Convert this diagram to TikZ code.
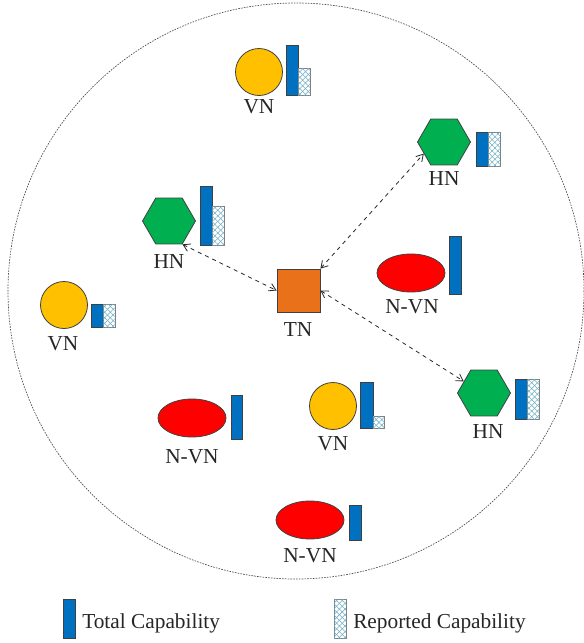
\documentclass[tikz,border=0pt]{standalone}
\usepackage{fontspec}
\setmainfont{Liberation Serif}
\usetikzlibrary{shapes.geometric,arrows.meta,patterns.meta}
\definecolor{vnyellow}{HTML}{FFC000}
\definecolor{hngreen}{HTML}{00B050}
\definecolor{tnorange}{HTML}{E8711A}
\definecolor{nvnred}{HTML}{FF0000}
\definecolor{capblue}{HTML}{0070C0}
\definecolor{patcol}{HTML}{6FAFC4}
\definecolor{edge}{HTML}{404040}
\def\px{0.75pt}
\tikzset{
  lbl/.style={font=\fontsize{16}{19}\selectfont, text=black!85, inner sep=0pt, anchor=base},
  vn/.style={circle, draw=edge, line width=0.6pt, fill=vnyellow, inner sep=0pt, minimum size=47*\px},
  hn/.style={regular polygon, regular polygon sides=6, draw=edge, line width=0.6pt, fill=hngreen, inner sep=0pt, minimum size=53*\px},
  nvn/.style={ellipse, draw=edge, line width=0.6pt, fill=nvnred, inner sep=0pt, minimum width=68*\px, minimum height=38*\px},
  tnbox/.style={rectangle, draw=edge, line width=0.6pt, fill=tnorange, inner sep=0pt, minimum size=43*\px},
  total/.style={draw=edge, line width=0.6pt, fill=capblue},
  reported/.style={draw=gray, line width=0.6pt, fill=white,
    postaction={pattern={Lines[angle=45,distance=3pt,line width=0.4pt]}, pattern color=patcol},
    postaction={pattern={Lines[angle=-45,distance=3pt,line width=0.4pt]}, pattern color=patcol}},
  link/.style={dashed, line width=0.6pt, black!85, {Straight Barb[length=5pt,width=6pt]}-{Straight Barb[length=5pt,width=6pt]}},
  border/.style={draw=black!70, line width=0.5pt, dash pattern=on 1.2pt off 0.9pt}
}
\begin{document}
\begin{tikzpicture}[x=0.75pt,y=-0.75pt]
\useasboundingbox (0,0) rectangle (584,643);
% big dashed circle
\draw[border] (296,291) circle[radius=288];

% VN top
\node[vn] (vn1) at (259,72) {};
\draw[total] (286,45) rectangle (298,95);
\draw[reported] (298,68) rectangle (310,95);
\node[lbl] (vn1l) at (259,113) {VN};

% HN top right
\node[hn] (hnR) at (444,142) {};
\draw[total] (476,132) rectangle (488,166);
\draw[reported] (488,132) rectangle (500,166);
\node[lbl] (hnRl) at (444,185) {HN};

% HN left
\node[hn] (hnL) at (169,221) {};
\draw[total] (200,186) rectangle (212,245);
\draw[reported] (212,206) rectangle (224,245);
\node[lbl] (hnLl) at (169,268) {HN};

% TN
\node[tnbox] (tn) at (298.5,290.5) {};
\node[lbl] (tnl) at (298,336) {TN};

% VN left
\node[vn] (vn2) at (64,305) {};
\draw[total] (91,304) rectangle (103,327);
\draw[reported] (103,304) rectangle (115,327);
\node[lbl] (vn2l) at (63,350) {VN};

% N-VN right
\node[nvn] (nvn1) at (411,273) {};
\draw[total] (449,236) rectangle (461,294);
\node[lbl] (nvn1l) at (412,313) {N-VN};

% HN bottom right
\node[hn] (hnB) at (484,393) {};
\draw[total] (515,379) rectangle (527,419);
\draw[reported] (527,379) rectangle (539,419);
\node[lbl] (hnBl) at (488,438) {HN};

% VN middle
\node[vn] (vn3) at (333,406) {};
\draw[total] (360,382) rectangle (373,428);
\draw[reported] (373,416) rectangle (384,428);
\node[lbl] (vn3l) at (333,450) {VN};

% N-VN left
\node[nvn] (nvn2) at (192,418) {};
\draw[total] (231,395) rectangle (242,439);
\node[lbl] (nvn2l) at (192,463) {N-VN};

% N-VN bottom
\node[nvn] (nvn3) at (310,520) {};
\draw[total] (349,505) rectangle (361,540);
\node[lbl] (nvn3l) at (310,562) {N-VN};

% links
\draw[link] (hnL.-60) -- (tn.west);
\draw[link] (tn.north east) -- (hnR.210);
\draw[link] (tn.east) -- (hnB.150);

% legend
\draw[total] (63,599) rectangle (75,638);
\node[lbl, anchor=base west] (legT) at (82,628) {Total Capability};
\draw[reported] (334,599) rectangle (346,638);
\node[lbl, anchor=base west] (legR) at (353,628) {Reported Capability};
\end{tikzpicture}
\end{document}
